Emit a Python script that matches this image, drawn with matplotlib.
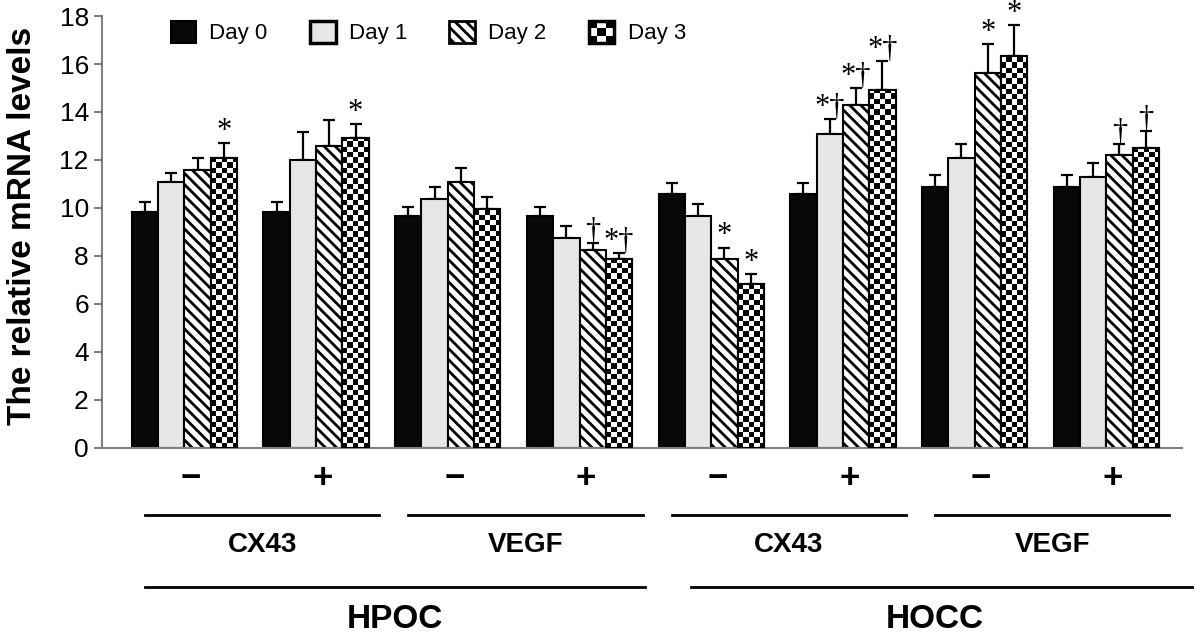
import numpy as np
import matplotlib
matplotlib.use("Agg")
from matplotlib import pyplot as plt
from matplotlib import transforms
from matplotlib.patches import Patch, Rectangle
from matplotlib.lines import Line2D
from matplotlib.legend_handler import HandlerBase

# data
days = ['Day 0', 'Day 1', 'Day 2', 'Day 3']
signs = ['\u2212', '+', '\u2212', '+', '\u2212', '+', '\u2212', '+']
genes = ['CX43', 'VEGF', 'CX43', 'VEGF']
cells = ['HPOC', 'HOCC']

day0 = [9.85, 9.85, 9.68, 9.68, 10.58, 10.58, 10.89, 10.89]
day1 = [11.08, 11.99, 10.38, 8.76, 9.65, 13.1, 12.1, 11.29]
day2 = [11.57, 12.6, 11.08, 8.25, 7.86, 14.3, 15.64, 12.2]
day3 = [12.1, 12.9, 9.96, 7.86, 6.85, 14.92, 16.33, 12.51]

err0 = [0.41, 0.41, 0.38, 0.38, 0.47, 0.47, 0.49, 0.49]
err1 = [0.39, 1.18, 0.48, 0.49, 0.53, 0.62, 0.58, 0.57]
err2 = [0.53, 1.05, 0.6, 0.29, 0.49, 0.71, 1.18, 0.48]
err3 = [0.6, 0.6, 0.5, 0.27, 0.39, 1.2, 1.3, 0.69]

# (group, day, mark)
marks = [(0, 3, '*'), (1, 3, '*'),
         (3, 2, '\u2020'), (3, 3, '*\u2020'),
         (4, 2, '*'), (4, 3, '*'),
         (5, 1, '*\u2020'), (5, 2, '*\u2020'), (5, 3, '*\u2020'),
         (6, 2, '*'), (6, 3, '*'),
         (7, 2, '\u2020'), (7, 3, '\u2020')]

plt.rcParams['font.family'] = ['Liberation Sans', 'DejaVu Sans']
plt.rcParams['hatch.linewidth'] = 2.0


class CheckerHandler(HandlerBase):
    def create_artists(self, legend, orig_handle, xdescent, ydescent,
                       width, height, fontsize, trans):
        x0, y0 = -xdescent, -ydescent
        out = [Rectangle((x0, y0), width, height, facecolor='white',
                         edgecolor='black', lw=2.5, transform=trans)]
        n = 3
        cw, ch = width / n, height / n
        for i in range(n):
            for j in range(n):
                if (i + j) % 2 == 0:
                    out.append(Rectangle((x0 + i * cw, y0 + j * ch), cw, ch,
                                         facecolor='black', edgecolor='none',
                                         transform=trans))
        return out


fig = plt.figure(figsize=(12, 6.35), dpi=100)
ax = fig.add_axes([0.085, 0.2945, 0.9, 0.6803])

x = np.arange(len(day0))
w = 0.2
vals = [day0, day1, day2, day3]
errs = [err0, err1, err2, err3]
faces = ['#080808', '#e6e6e6', 'white', 'white']
hatches = [None, None, '\\\\\\', None]

allbars = []
for i in range(4):
    bars = ax.bar(x + (i - 1.5) * w, vals[i], w, color=faces[i],
                  edgecolor='black', lw=1.5, hatch=hatches[i], zorder=2)
    allbars.append(bars)
    ax.errorbar(x + (i - 1.5) * w, vals[i],
                yerr=[np.zeros(len(x)), errs[i]], fmt='none',
                ecolor='black', elinewidth=1.6, capsize=4, capthick=1.6,
                zorder=1)

# checkerboard fill for day 3
sq_x, sq_y = 0.04, 0.22
for b in allbars[3]:
    bx, bw, bh = b.get_x(), b.get_width(), b.get_height()
    nc = int(round(bw / sq_x))
    nr = int(np.ceil(bh / sq_y))
    ii, jj = np.indices((nr, nc))
    board = ((ii + jj) % 2).astype(float)
    im = ax.imshow(board, cmap='gray', extent=(bx, bx + bw, 0, nr * sq_y),
                   origin='lower', interpolation='nearest', aspect='auto',
                   zorder=2.5)
    im.set_clip_path(b)
ax.bar(x + 1.5 * w, day3, w, facecolor='none', edgecolor='black', lw=1.5,
       zorder=3)

# significance marks
for g, d, m in marks:
    ax.text(x[g] + (d - 1.5) * w, vals[d][g] + errs[d][g] - 0.12, m,
            ha='center', va='bottom', fontsize=22, clip_on=False,
            family=['Liberation Serif', 'DejaVu Serif'])

ax.set_xlim(-0.626, 7.575)
ax.set_ylim(0, 18)
ax.set_yticks(range(0, 19, 2))
ax.set_xticks([])
ax.tick_params(axis='y', labelsize=19, color='#808080', width=1.5, length=6)
for s in ['top', 'right']:
    ax.spines[s].set_visible(False)
for s in ['left', 'bottom']:
    ax.spines[s].set_color('#808080')
    ax.spines[s].set_linewidth(1.5)

fig.text(0.019, 0.644, 'The relative mRNA levels', rotation=90,
         ha='center', va='center', fontsize=24, fontweight='bold')

# group labels under the axis
tr = transforms.blended_transform_factory(ax.transData, fig.transFigure)
for k, s in enumerate(signs):
    ax.text(x[k] + 0.05, 0.247, s, transform=tr, ha='center', va='center',
            fontsize=25, fontweight='bold', clip_on=False)
for k, gname in enumerate(genes):
    x0, x1 = x[2 * k] - 0.3, x[2 * k + 1] + 0.48
    ax.add_line(Line2D([x0, x1], [0.189, 0.189], transform=tr, color='black',
                       lw=2, clip_on=False))
    ax.text((x0 + x1) / 2, 0.142, gname, transform=tr, ha='center',
            va='center', fontsize=20, fontweight='bold', clip_on=False)
for k, cname in enumerate(cells):
    x0 = x[4 * k] - 0.3 + (0.15 if k else 0)
    x1 = x[4 * k + 3] + 0.5 + (0.15 if k else 0)
    ax.add_line(Line2D([x0, x1], [0.076, 0.076], transform=tr, color='black',
                       lw=2, clip_on=False))
    ax.text((x[4 * k] + x[4 * k + 3]) / 2 + 0.1 + (0.1 if k else 0), 0.024,
            cname, transform=tr, ha='center', va='center', fontsize=24,
            fontweight='bold', clip_on=False)

# legend
h0 = Patch(facecolor='#080808', edgecolor='black', lw=1.5)
h1 = Patch(facecolor='#e6e6e6', edgecolor='black', lw=2.5)
h2 = Patch(facecolor='white', edgecolor='black', lw=2, hatch='\\\\\\')
h3 = Patch(facecolor='white', edgecolor='black')
ax.legend([h0, h1, h2, h3], days, handler_map={h3: CheckerHandler()},
          loc='upper left', bbox_to_anchor=(0.045, 1.035), ncol=4,
          frameon=False, fontsize=16, handlelength=1.15, handleheight=1.15,
          handletextpad=0.6, columnspacing=1.9)

fig.savefig('out.png', dpi=100)
